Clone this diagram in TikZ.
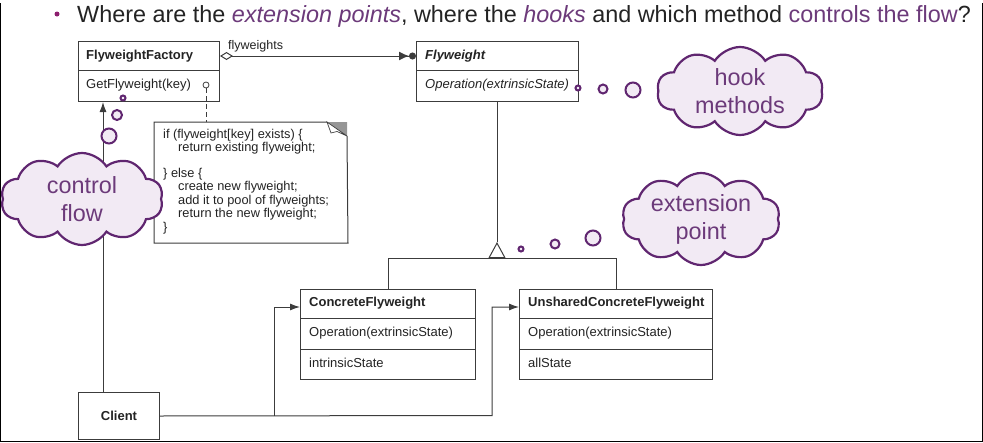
\documentclass[tikz,border=0pt]{standalone}
\usepackage{fontspec}
\setmainfont{Liberation Sans}
\usetikzlibrary{arrows.meta,shapes.symbols,calc}
\definecolor{umlc}{RGB}{60,60,60}
\definecolor{txtc}{RGB}{35,35,35}
\definecolor{purp}{RGB}{96,38,112}
\definecolor{purptxt}{RGB}{108,58,122}
\definecolor{purpfill}{RGB}{242,234,244}
\definecolor{bulletc}{RGB}{140,30,110}
\definecolor{foldgray}{RGB}{150,150,150}
\begin{document}
\begin{tikzpicture}[x=1pt,y=-1pt,
  umlbox/.style={draw=umlc, line width=1pt, anchor=north west, inner sep=0pt, fill=white},
  umltext/.style={anchor=west, inner sep=0pt, text=txtc, font=\fontsize{13}{14}\selectfont},
  umlline/.style={draw=umlc, line width=1pt},
  cloudy/.style={cloud, cloud puffs=10, cloud puff arc=115, cloud ignores aspect, draw=purp, line width=2.2pt, fill=purpfill,
     text=purptxt, align=center, font=\fontsize{23.4}{28}\selectfont, inner sep=0pt},
  bubble/.style={circle, draw=purp, line width=2pt, fill=purpfill, inner sep=0pt},
  titletext/.style={anchor=base west, inner sep=0pt, font=\fontsize{23.4}{28}\selectfont, text=txtc}
]
\useasboundingbox (0,0) rectangle (983,442);
% frame
\draw[black, line width=1pt] (0.5,3) -- (0.5,441) -- (982,441) -- (982,3);

% title
\node[circle, fill=bulletc, inner sep=0pt, minimum size=5pt] (bul) at (57,14) {};
\node[titletext] (title) at (77,22) {Where are the \textcolor{purptxt}{\textit{extension points}}, where the \textcolor{purptxt}{\textit{hooks}} and which method \textcolor{purptxt}{controls the flow}?};

% FlyweightFactory
\node[umlbox, minimum width=141pt, minimum height=60pt] (ff) at (78,41) {};
\draw[umlline] ([yshift=-29pt]ff.north west) -- ([yshift=-29pt]ff.north east);
\node[umltext, font=\fontsize{13}{14}\selectfont\bfseries] (ffname) at (86,56) {FlyweightFactory};
\node[umltext] (ffop) at (86,85) {GetFlyweight(key)};

% Flyweight
\node[umlbox, minimum width=162pt, minimum height=60pt] (fw) at (416,41) {};
\draw[umlline] ([yshift=-29pt]fw.north west) -- ([yshift=-29pt]fw.north east);
\node[umltext, font=\fontsize{13}{14}\selectfont\bfseries\itshape] (fwname) at (425,56) {Flyweight};
\node[umltext, font=\fontsize{13}{14}\selectfont\itshape] (fwop) at (425,85) {Operation(extrinsicState)};

% ConcreteFlyweight
\node[umlbox, minimum width=175pt, minimum height=90pt] (cf) at (300,289) {};
\draw[umlline] ([yshift=-29pt]cf.north west) -- ([yshift=-29pt]cf.north east);
\draw[umlline] ([yshift=-60pt]cf.north west) -- ([yshift=-60pt]cf.north east);
\node[umltext, font=\fontsize{13}{14}\selectfont\bfseries] (cfname) at (309,303) {ConcreteFlyweight};
\node[umltext] (cfop) at (309,333) {Operation(extrinsicState)};
\node[umltext] (cfst) at (309,363) {intrinsicState};

% UnsharedConcreteFlyweight
\node[umlbox, minimum width=193pt, minimum height=90pt] (ucf) at (519,289) {};
\draw[umlline] ([yshift=-29pt]ucf.north west) -- ([yshift=-29pt]ucf.north east);
\draw[umlline] ([yshift=-60pt]ucf.north west) -- ([yshift=-60pt]ucf.north east);
\node[umltext, font=\fontsize{13}{14}\selectfont\bfseries] (ucfname) at (528,303) {UnsharedConcreteFlyweight};
\node[umltext] (ucfop) at (528,333) {Operation(extrinsicState)};
\node[umltext] (ucfst) at (528,363) {allState};

% Client
\node[umlbox, minimum width=81pt, minimum height=47pt] (cl) at (78,392) {};
\node[umltext, anchor=center, font=\fontsize{13}{14}\selectfont\bfseries] (clname) at (cl.center) {Client};

% note
\node[umlbox, minimum width=193pt, minimum height=120pt, draw=none, fill=none] (note) at (154,122) {};
\draw[umlline] (327,122) -- (note.north west) -- (note.south west) -- (note.south east) -- (347,136);
\fill[foldgray] (327,122) -- (347,122) -- (347,136) -- cycle;
\draw[umlline, fill=white, line width=0.7pt] (327,122) -- (331,133) -- (337,131.5) -- (347,136) -- cycle;
\node[anchor=north west, inner sep=0pt, text=txtc, align=left, font=\fontsize{12.8}{13.5}\selectfont] (notetext) at (163,129)
 {if (flyweight[key] exists) \{\\
 \hspace*{15pt}return existing flyweight;\\[12pt]
 \} else \{\\
 \hspace*{15pt}create new flyweight;\\
 \hspace*{15pt}add it to pool of flyweights;\\
 \hspace*{15pt}return the new flyweight;\\
 \}};
\node[circle, draw=umlc, line width=0.8pt, fill=white, inner sep=0pt, minimum size=6pt] (ncirc) at (206,85) {};
\draw[umlline, dashed, dash pattern=on 5pt off 3pt] (ncirc.south) -- (ncirc.south |- note.north);

% flyweights aggregation
\draw[umlline, {Diamond[open, fill=white, length=13pt, width=8pt]}-{Latex[length=10pt,width=9pt]Circle[length=7pt]}] (ff.east |- ffname) -- (fw.west |- ffname);
\node[umltext, font=\fontsize{12.5}{14}\selectfont] (flw) at (228,46) {flyweights};

% generalization
\coordinate (gen) at (497,258);
\coordinate (apex) at (497,242);
\draw[umlline] (fw.south -| gen) -- (apex);
\draw[umlline, -{Triangle[open, fill=white, length=16pt, width=17pt]}] (gen) -- (apex);
\draw[umlline] (cf.north) -- (cf.north |- gen) -- (ucf.north |- gen) -- (ucf.north);

% client connections
\coordinate (j1) at (274,415.5);
\coordinate (j2) at (492,415.5);
\draw[umlline, -{Latex[length=10pt,width=7pt]}] ([xshift=25pt]cl.north west) -- ([xshift=25pt]ff.south west);
\draw[umlline, -{Latex[length=10pt,width=7pt]}] (cl.east) -- (j2) |- ([yshift=-18pt]ucf.north west);
\draw[umlline, -{Latex[length=10pt,width=7pt]}] (j1) |- ([yshift=-18pt]cf.north west);

% clouds
\node[cloudy, minimum width=166pt, minimum height=88pt] (hook) at (740,91) {hook\\methods};
\node[cloudy, minimum width=162pt, minimum height=92pt] (ctrl) at (82,199) {control\\flow};
\node[cloudy, minimum width=158pt, minimum height=92pt] (ext) at (701,219) {extension\\point};

% thought bubbles
\node[bubble, minimum size=5pt] (h1) at (578,88) {};
\node[bubble, minimum size=9pt] (h2) at (603,89) {};
\node[bubble, minimum size=15pt] (h3) at (633,90) {};
\node[bubble, minimum size=5pt] (c1) at (123,98) {};
\node[bubble, minimum size=10pt] (c2) at (117,115) {};
\node[bubble, minimum size=15pt] (c3) at (109,136) {};
\node[bubble, minimum size=5pt] (e1) at (521,249) {};
\node[bubble, minimum size=9pt] (e2) at (555,244) {};
\node[bubble, minimum size=15pt] (e3) at (593,238) {};
\end{tikzpicture}
\end{document}
